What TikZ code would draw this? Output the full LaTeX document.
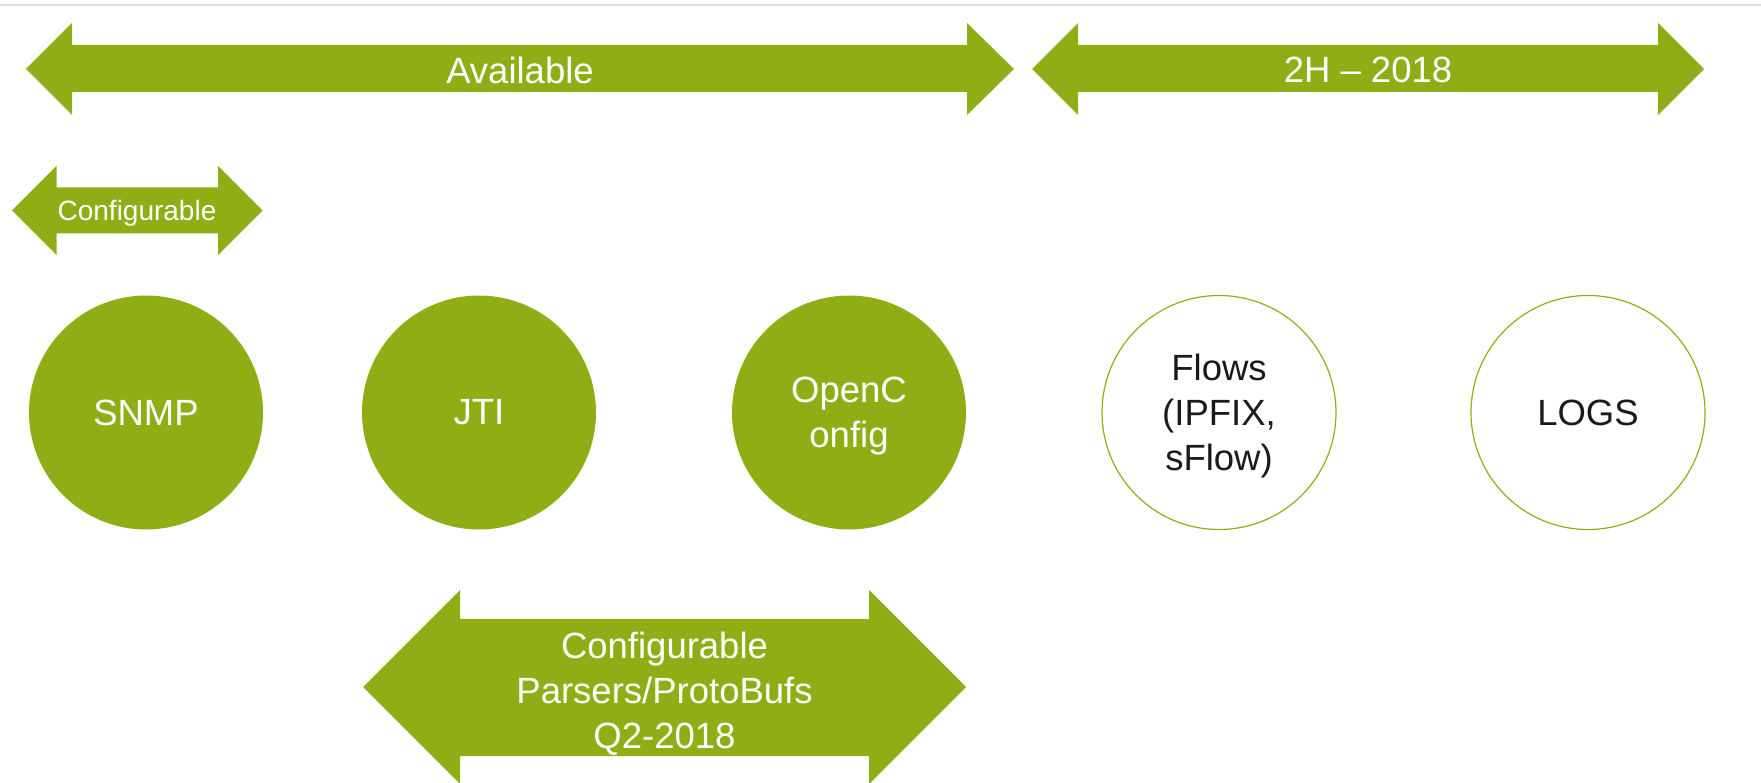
\documentclass[tikz,border=0pt]{standalone}
\usepackage{fontspec}
\setmainfont{Liberation Sans}
\usepackage{xcolor}
\definecolor{leafgreen}{RGB}{143,174,22}
\definecolor{inkgray}{RGB}{26,26,26}

\begin{document}
\begin{tikzpicture}[x=1pt, y=-1pt,
    every node/.style={font=\fontsize{36.5}{45}\selectfont},
    bubble/.style={circle, minimum size=234pt, inner sep=0pt, align=center},
    solid bubble/.style={bubble, fill=leafgreen, text=white},
    open bubble/.style={bubble, draw=leafgreen, line width=1.2pt, text=inkgray},
    arrowlabel/.style={text=white, align=center, inner sep=0pt}]
    \useasboundingbox (0,0) rectangle (1761,783);

    % Top rule
    \draw[gray!25, line width=2pt] (0,5) -- (1761,5);

    % Timeline arrows
    \fill[leafgreen] (26,69) -- (72,23) -- (72,45) -- (967,45) -- (967,23) -- (1014,69)
        -- (967,115) -- (967,92) -- (72,92) -- (72,115) -- cycle;
    \node[arrowlabel] (available) at (520,70) {Available};

    \fill[leafgreen] (1032,69) -- (1078,23) -- (1078,45) -- (1658,45) -- (1658,23) -- (1704,69)
        -- (1658,115) -- (1658,92) -- (1078,92) -- (1078,115) -- cycle;
    \node[arrowlabel] (later) at (1368,70) {2H -- 2018};

    % Small arrow above SNMP
    \fill[leafgreen] (12,210.5) -- (56.5,166) -- (56.5,187.5) -- (218,187.5) -- (218,166) -- (262.5,210.5)
        -- (218,255) -- (218,233.5) -- (56.5,233.5) -- (56.5,255) -- cycle;
    \node[arrowlabel, font=\fontsize{28}{34}\selectfont] (snmpcfg) at (137,213.5) {Configurable};

    % Data sources
    \node[solid bubble] (snmp) at (146,412.5) {SNMP};
    \node[solid bubble] (jti) at (479,412.5) {JTI};
    \node[solid bubble] (openconfig) at (849,412.5) {};
    \node[arrowlabel] (openconfigtxt) at ([yshift=-4pt]openconfig.center) {OpenC\\onfig};
    \node[open bubble] (flows) at (1219,412.5) {};
    \node[arrowlabel, text=inkgray] (flowstxt) at ([yshift=-3.5pt]flows.center) {Flows\\(IPFIX,\\sFlow)};
    \node[open bubble] (logs) at (1588,412.5) {LOGS};

    % Bottom arrow under JTI and OpenConfig
    \fill[leafgreen] (363,687) -- (460,590) -- (460,619) -- (869,619) -- (869,590) -- (966,687)
        -- (869,784) -- (869,756) -- (460,756) -- (460,784) -- cycle;
    \node[arrowlabel] (parsers) at (664.5,694) {Configurable\\Parsers/ProtoBufs\\Q2-2018};
\end{tikzpicture}
\end{document}
